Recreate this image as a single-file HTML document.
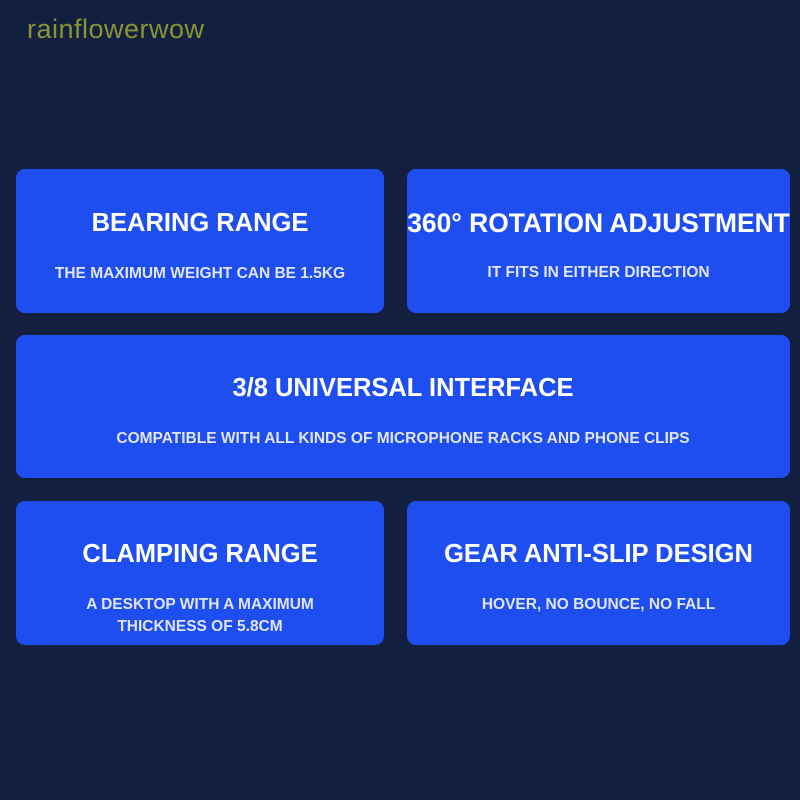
<!DOCTYPE html>
<html><head><meta charset="utf-8"><style>
html,body{margin:0;padding:0}
body{width:800px;height:800px;background:#131f3f;position:relative;overflow:hidden;font-family:"Liberation Sans",sans-serif}
.wm{position:absolute;left:27px;top:14px;font-size:27px;color:#8a9432;letter-spacing:0.5px}
.b{position:absolute;background:#1f4ef0;border-radius:9px;color:#fff;text-align:center}
.t{position:absolute;left:0;right:0;font-weight:bold;font-size:25.5px}
.s{position:absolute;left:0;right:0;font-weight:bold;font-size:15.5px;color:#dfe5f7;line-height:22px}
</style></head><body>
<div class="wm">rainflowerwow</div>
<div class="b" style="left:16px;top:169px;width:368px;height:144px">
<div class="t" style="top:40px">BEARING RANGE</div>
<div class="s" style="top:94px">THE MAXIMUM WEIGHT CAN BE 1.5KG</div></div>
<div class="b" style="left:407px;top:169px;width:383px;height:144px">
<div class="t" style="top:39px;white-space:nowrap;font-size:26.4px;left:-10px;right:-10px">360° ROTATION ADJUSTMENT</div>
<div class="s" style="top:93px">IT FITS IN EITHER DIRECTION</div></div>
<div class="b" style="left:16px;top:335px;width:774px;height:143px">
<div class="t" style="top:39px">3/8 UNIVERSAL INTERFACE</div>
<div class="s" style="top:93px">COMPATIBLE WITH ALL KINDS OF MICROPHONE RACKS AND PHONE CLIPS</div></div>
<div class="b" style="left:16px;top:501px;width:368px;height:144px">
<div class="t" style="top:39px">CLAMPING RANGE</div>
<div class="s" style="top:93px">A DESKTOP WITH A MAXIMUM<br>THICKNESS OF 5.8CM</div></div>
<div class="b" style="left:407px;top:501px;width:383px;height:144px">
<div class="t" style="top:39px">GEAR ANTI-SLIP DESIGN</div>
<div class="s" style="top:93px">HOVER, NO BOUNCE, NO FALL</div></div>
</body></html>
